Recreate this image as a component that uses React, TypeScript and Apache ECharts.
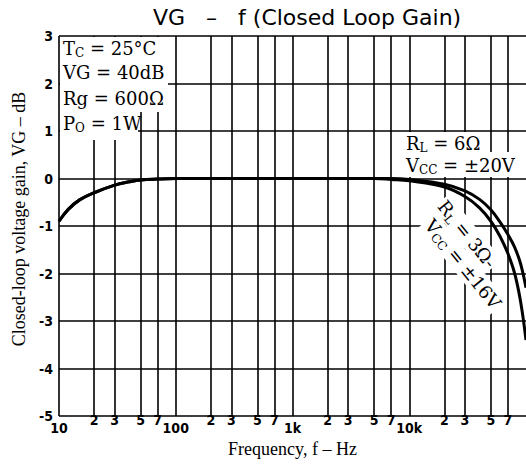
import React, { useEffect, useRef } from 'react';
import * as echarts from 'echarts';

// ---- data ----
const frequencies = [10, 12, 15, 20, 30, 40, 50, 70, 100, 300, 1000, 3000, 5000, 7000, 10000, 20000, 30000, 40000, 50000, 60000, 70000, 80000, 90000, 100000];
const gainRL6 = [-0.9, -0.65, -0.45, -0.3, -0.14, -0.07, -0.03, -0.01, 0, 0, 0, 0, 0, 0, -0.02, -0.12, -0.26, -0.44, -0.66, -0.92, -1.18, -1.45, -1.8, -2.3];
const gainRL3 = [-0.9, -0.65, -0.45, -0.3, -0.14, -0.07, -0.03, -0.01, 0, 0, 0, 0, 0, -0.02, -0.05, -0.18, -0.38, -0.62, -0.9, -1.22, -1.58, -2.0, -2.6, -3.4];

const xTickValues = [10, 20, 30, 50, 70, 100, 200, 300, 500, 700, 1000, 2000, 3000, 5000, 7000, 10000, 20000, 30000, 50000, 70000];
const xTickLabels = ['10', '2', '3', '5', '7', '100', '2', '3', '5', '7', '1k', '2', '3', '5', '7', '10k', '2', '3', '5', '7'];
const yTickValues = [3, 2, 1, 0, -1, -2, -3, -4, -5];

const titleText = 'VG   \u2013   f (Closed Loop Gain)';
const xName = 'Frequency, f \u2013 Hz';
const yName = 'Closed-loop voltage gain, VG \u2013 dB';
const infoLines = ['T{s|C} = 25°C', 'VG = 40dB', 'Rg = 600\u03a9', 'P{s|O} = 1W'];

export default function App() {
  const ref = useRef<HTMLDivElement>(null);
  useEffect(() => {
    const chart = echarts.init(ref.current!, null, { renderer: 'svg' });
    const serif = '"Liberation Serif", "DejaVu Serif", serif';
    const wideSerif = '"DejaVu Serif", "Liberation Serif", serif';
    const narrow = '"Liberation Sans Narrow", "DejaVu Sans Condensed", "Liberation Sans", sans-serif';
    const sub = { fontSize: 12, fontFamily: wideSerif, padding: [10, 0, 0, 0] };
    const textStyleBase = { fontFamily: wideSerif, fontSize: 18, fill: '#000', rich: { s: sub } } as any;

    const rowTops = [37, 59, 86, 112];
    const rowRights = [160, 168, 163, 138];
    const rowHeights = [22, 27, 26, 28];
    const rowCenters = [48, 72, 98, 123];

    const graphic: any[] = [];
    infoLines.forEach((t, i) => {
      graphic.push({ type: 'rect', z: 5, shape: { x: 60, y: rowTops[i], width: rowRights[i] - 60, height: rowHeights[i] }, style: { fill: '#fff' } });
      graphic.push({ type: 'text', z: 6, x: 63, y: rowCenters[i], style: { ...textStyleBase, text: t, verticalAlign: 'middle' } });
    });
    graphic.push({ type: 'rect', z: 5, shape: { x: 403, y: 132, width: 84, height: 20 }, style: { fill: '#fff' } });
    graphic.push({ type: 'rect', z: 5, shape: { x: 403, y: 152, width: 125, height: 25 }, style: { fill: '#fff' } });
    graphic.push({ type: 'text', z: 6, x: 406, y: 143, style: { ...textStyleBase, text: 'R{s|L} = 6\u03a9', verticalAlign: 'middle' } });
    graphic.push({ type: 'text', z: 6, x: 406, y: 165, style: { ...textStyleBase, text: 'V{s|CC} = \u00b120V', verticalAlign: 'middle' } });
    graphic.push({ type: 'text', z: 6, x: 467, y: 234, rotation: -0.89, style: { ...textStyleBase, text: 'R{s|L} = 3\u03a9-', align: 'center', verticalAlign: 'middle', backgroundColor: '#fff', padding: [0, 2, 0, 2] } });
    graphic.push({ type: 'text', z: 6, x: 463, y: 264, rotation: -0.89, style: { ...textStyleBase, text: 'V{s|CC} = \u00b116V', align: 'center', verticalAlign: 'middle', backgroundColor: '#fff', padding: [0, 2, 0, 2] } });

    const lineStyle = { color: '#000', width: 1.6 };

    chart.setOption({
      animation: false,
      backgroundColor: '#fff',
      title: {
        text: titleText,
        left: 148,
        top: 1,
        textStyle: { fontFamily: '"DejaVu Sans", "Open Sans", sans-serif', fontSize: 22, fontWeight: 'normal', color: '#000' },
      },
      grid: { left: 59, right: -3, top: 36, bottom: 52, show: false },
      xAxis: {
        type: 'log',
        logBase: 10,
        min: 10,
        max: 100000,
        name: xName,
        nameLocation: 'middle',
        nameGap: 23,
        nameTextStyle: { fontFamily: serif, fontSize: 18, color: '#000' },
        axisLine: { show: false },
        axisTick: { show: false, customValues: xTickValues },
        splitLine: { show: true, lineStyle },
        axisLabel: {
          customValues: xTickValues,
          margin: -3,
          formatter: (v: number) => {
            let idx = 0;
            let best = Infinity;
            xTickValues.forEach((t, i) => {
              const d = Math.abs(Math.log10(t) - Math.log10(v));
              if (d < best) { best = d; idx = i; }
            });
            const lbl = xTickLabels[idx];
            return lbl.length > 1 ? '{a|' + lbl + '}' : '{b|' + lbl + '}';
          },
          rich: {
            a: { fontFamily: narrow, fontWeight: 'bold', fontSize: 14, color: '#000', padding: [8, 0, 0, 0] },
            b: { fontFamily: narrow, fontWeight: 'bold', fontSize: 14, color: '#000', padding: [0, 0, 0, 0] },
          },
        },
      },
      yAxis: {
        type: 'value',
        min: -5,
        max: 3,
        interval: 1,
        name: yName,
        nameLocation: 'middle',
        nameGap: 31,
        nameTextStyle: { fontFamily: serif, fontSize: 18, color: '#000', padding: [0, 0, 0, 14] },
        axisLine: { show: false },
        axisTick: { show: false },
        splitLine: { show: true, lineStyle },
        axisLabel: {
          margin: 6,
          fontFamily: narrow,
          fontWeight: 'bold',
          fontSize: 14,
          color: '#000',
          formatter: (v: number) => (yTickValues.indexOf(v) >= 0 ? String(v) : ''),
        },
      },
      graphic,
      series: [
        {
          name: 'RL = 6Ω, VCC = ±20V',
          type: 'line',
          z: 20,
          data: frequencies.map((f, i) => [f, gainRL6[i]]),
          showSymbol: false,
          smooth: 0.4,
          lineStyle: { color: '#000', width: 3 },
        },
        {
          name: 'RL = 3Ω, VCC = ±16V',
          type: 'line',
          z: 20,
          data: frequencies.map((f, i) => [f, gainRL3[i]]),
          showSymbol: false,
          smooth: 0.4,
          lineStyle: { color: '#000', width: 3 },
        },
      ],
    });
    return () => chart.dispose();
  }, []);
  return <div ref={ref} style={{ position: 'fixed', left: 0, top: 0, width: 526, height: 468 }} />;
}
